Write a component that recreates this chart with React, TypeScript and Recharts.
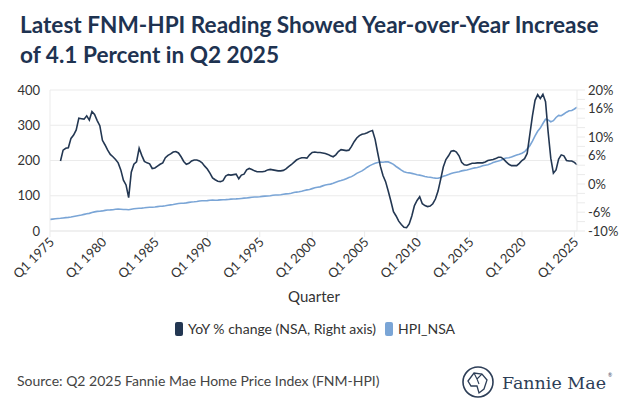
import React from 'react';
import { ComposedChart, Line, XAxis, YAxis, CartesianGrid } from 'recharts';

// quarterly HPI_NSA, Q1 1975 .. Q2 2025
const hpiNsa = [
  33.0, 33.8, 34.6, 35.3, 36.0, 37.0, 38.0, 38.6, 39.8, 41.3, 42.8, 44.0,
  45.3, 47.2, 49.0, 50.0, 52.3, 54.2, 55.6, 56.0, 57.0, 58.6, 59.5, 59.8,
  60.3, 61.5, 62.0, 61.5, 60.8, 61.0, 60.3, 61.8, 63.0, 64.0, 64.5, 65.0,
  65.8, 66.8, 67.3, 67.5, 68.0, 69.2, 70.0, 70.5, 71.7, 73.2, 74.2, 75.0,
  76.4, 77.8, 78.6, 78.9, 79.8, 81.2, 82.3, 82.8, 83.6, 85.0, 85.8, 86.0,
  86.3, 87.2, 87.5, 87.3, 87.5, 88.3, 88.8, 89.0, 89.4, 90.3, 90.8, 91.0,
  91.5, 92.4, 93.3, 93.8, 94.8, 95.6, 96.3, 96.5, 97.2, 98.2, 99.0, 99.4,
  100.2, 101.2, 102.0, 102.3, 103.0, 104.2, 105.2, 105.8, 107.2, 109.0, 110.4, 111.4,
  113.0, 115.0, 116.6, 117.6, 120.2, 122.6, 124.2, 125.2, 128.0, 130.4, 132.0, 133.0,
  135.5, 138.5, 141.0, 143.0, 145.3, 148.5, 151.5, 154.2, 158.5, 163.5, 167.0, 170.5,
  175.5, 181.0, 185.5, 189.0, 192.0, 194.5, 195.5, 195.0, 196.5, 196.0, 193.0, 189.0,
  183.0, 178.0, 172.5, 168.0, 166.0, 165.0, 163.5, 161.5, 159.5, 158.5, 156.5, 154.5,
  153.0, 152.5, 151.0, 150.0, 149.5, 152.0, 155.5, 157.5, 160.0, 163.0, 165.0, 166.5,
  168.0, 170.5, 172.0, 173.0, 175.0, 177.5, 179.0, 180.0, 182.0, 185.0, 186.5, 188.0,
  190.5, 194.0, 196.5, 198.5, 201.0, 205.0, 207.0, 208.0, 210.0, 213.0, 215.5, 217.5,
  220.5, 225.0, 233.0, 242.0, 255.0, 270.0, 283.0, 292.0, 305.0, 317.0, 315.0, 310.0,
  313.0, 322.0, 328.0, 327.0, 332.0, 337.0, 341.0, 342.0, 346.0, 351.0,
];

// quarterly YoY % change (NSA), Q1 1976 .. Q2 2025
const yoyChange = [
  4.9, 7.2, 7.6, 7.7, 9.7, 10.4, 11.5, 14.0, 13.9, 13.8, 14.5, 13.6,
  15.4, 14.8, 13.5, 12.4, 9.3, 8.3, 7.2, 6.3, 5.8, 5.2, 4.5, 3.0,
  0.8, -0.2, -2.9, 2.5, 4.2, 4.7, 7.6, 6.1, 4.8, 4.5, 4.3, 3.3,
  3.4, 3.8, 4.2, 4.5, 5.6, 6.1, 6.4, 6.8, 6.9, 6.6, 5.8, 4.8,
  4.2, 4.4, 4.9, 5.1, 5.1, 4.9, 4.5, 3.8, 3.2, 2.3, 1.3, 0.9,
  0.6, 0.5, 0.7, 1.7, 2.0, 1.9, 2.0, 2.1, 1.1, 1.9, 2.1, 3.0,
  3.3, 3.1, 2.8, 2.6, 2.6, 2.6, 2.7, 3.0, 3.1, 3.0, 2.9, 2.8,
  2.8, 2.9, 3.2, 3.7, 4.1, 4.6, 5.1, 5.4, 5.6, 5.6, 5.5, 6.2,
  6.7, 6.8, 6.7, 6.7, 6.6, 6.5, 6.3, 6.0, 5.8, 6.2, 6.9, 7.3,
  7.2, 7.1, 7.2, 8.0, 9.0, 9.8, 10.3, 10.6, 10.7, 10.9, 11.2, 11.4,
  9.5, 6.6, 3.8, 1.8, 0.5, -1.5, -3.6, -5.9, -6.8, -7.9, -8.6, -9.2,
  -9.3, -8.5, -6.8, -4.6, -3.5, -2.7, -4.2, -4.6, -4.8, -4.7, -4.2, -3.2,
  -1.5, 1.0, 3.6, 5.2, 6.0, 7.0, 7.1, 6.8, 6.0, 4.6, 4.1, 4.0,
  4.2, 4.4, 4.4, 4.5, 4.5, 4.5, 4.7, 5.0, 5.1, 5.2, 5.4, 5.7,
  5.7, 5.3, 4.7, 4.2, 3.9, 3.9, 3.9, 4.4, 5.0, 5.4, 6.5, 10.5,
  14.5, 17.8, 19.0, 18.2, 19.1, 17.5, 11.0, 5.5, 2.3, 3.0, 5.3, 6.2,
  6.0, 5.0, 4.9, 4.9, 4.6, 4.1,
];

const firstYear = 1975;
const quarters = hpiNsa.map((_, i) => `Q${(i % 4) + 1} ${firstYear + Math.floor(i / 4)}`);

const leftTicks = [0, 50, 100, 150, 200, 250, 300, 350, 400];
const rightTicks = [-10, -8, -6, -4, -2, 0, 2, 4, 6, 8, 10, 12, 14, 16, 18, 20];
const rightLabels = [20, 16, 10, 6, 0, -6, -10];

const data = quarters.map((q, i) => ({
  quarter: q,
  hpi: hpiNsa[i],
  yoy: i >= 4 ? yoyChange[i - 4] : null,
}));

const darkColor = '#233752';
const blueColor = '#7aa5d6';
const gridColor = '#ebebeb';
const textColor = '#333333';
const font = 'Lato, "Noto Sans", sans-serif';

const XTick = ({ x, y, payload }: any) => (
  <text
    x={x + 5}
    y={y + 4}
    transform={`rotate(-45 ${x + 5} ${y + 4})`}
    textAnchor="end"
    fontSize={13}
    fill={textColor}
    fontFamily={font}
  >
    {payload.value}
  </text>
);

const LegendSwatch = ({ color }: { color: string }) => (
  <span style={{ display: 'inline-block', width: 8, height: 14, borderRadius: 2, background: color, marginRight: 5 }} />
);

export default function App() {
  return (
    <div style={{ position: 'absolute', left: 0, top: 0, width: 640, height: 407, background: '#fff', fontFamily: font }}>
      <div style={{ position: 'absolute', left: 20, top: 10, width: 620, fontSize: 22.6, fontWeight: 700, lineHeight: '30px', color: '#1e3351' }}>
        Latest FNM-HPI Reading Showed Year-over-Year Increase
        <br />
        of 4.1 Percent in Q2 2025
      </div>

      <div style={{ position: 'absolute', left: 0, top: 0 }}>
        <ComposedChart width={640} height={300} data={data} margin={{ top: 90, right: 8, left: 8, bottom: 9 }}>
          <CartesianGrid yAxisId="left" vertical={false} stroke={gridColor} />
          <XAxis
            dataKey="quarter"
            interval={19}
            height={60}
            tick={<XTick />}
            tickSize={6}
            stroke={gridColor}
          />
          <YAxis
            yAxisId="left"
            domain={[0, 400]}
            ticks={leftTicks}
            width={42}
            tickLine={false}
            tickSize={6}
            tickMargin={4}
            stroke={gridColor}
            tick={{ fontSize: 13, fill: textColor, fontFamily: font }}
          />
          <YAxis
            yAxisId="right"
            orientation="right"
            domain={[-10, 20]}
            ticks={rightTicks}
            interval={0}
            width={55}
            tickSize={8}
            tickMargin={3}
            stroke={gridColor}
            tickFormatter={(v: number) => (rightLabels.includes(v) ? `${v}%` : '')}
            tick={{ fontSize: 13, fill: textColor, fontFamily: font, textAnchor: 'start' }}
          />
          <Line yAxisId="left" type="linear" dataKey="hpi" stroke={blueColor} strokeWidth={1.6} dot={false} isAnimationActive={false} />
          <Line yAxisId="right" type="linear" dataKey="yoy" stroke={darkColor} strokeWidth={1.6} dot={false} isAnimationActive={false} connectNulls={false} />
        </ComposedChart>
      </div>

      <div style={{ position: 'absolute', left: 288, top: 287, fontSize: 15, color: textColor }}>Quarter</div>

      <div style={{ position: 'absolute', left: 175, top: 320, fontSize: 14, color: textColor, display: 'flex', alignItems: 'center' }}>
        <LegendSwatch color={darkColor} />
        <span style={{ marginRight: 9 }}>YoY % change (NSA, Right axis)</span>
        <LegendSwatch color={blueColor} />
        <span>HPI_NSA</span>
      </div>

      <div style={{ position: 'absolute', left: 17, top: 372, fontSize: 14, color: '#444' }}>
        Source: Q2 2025 Fannie Mae Home Price Index (FNM-HPI)
      </div>

      <svg style={{ position: 'absolute', left: 460, top: 362 }} width={175} height={40}>
        <circle cx={18} cy={20} r={15} fill="none" stroke="#2d3e57" strokeWidth={1.6} />
        <path d="M8 19 L14 11 L22 12 L27 18 L24 27 L19 31 L17 24 L11 24 Z" fill="none" stroke="#2d3e57" strokeWidth={1.3} />
        <path d="M14 11 L17 17 L22 12 M17 17 L19 22" fill="none" stroke="#2d3e57" strokeWidth={1.1} />
        <text x={42} y={27} fontSize={17} textLength={104} lengthAdjust="spacingAndGlyphs" fill="#2d3e57" fontFamily='"DejaVu Serif", serif'>Fannie Mae</text>
        <text x={148} y={15} fontSize={5} fill="#2d3e57">®</text>
      </svg>
    </div>
  );
}
